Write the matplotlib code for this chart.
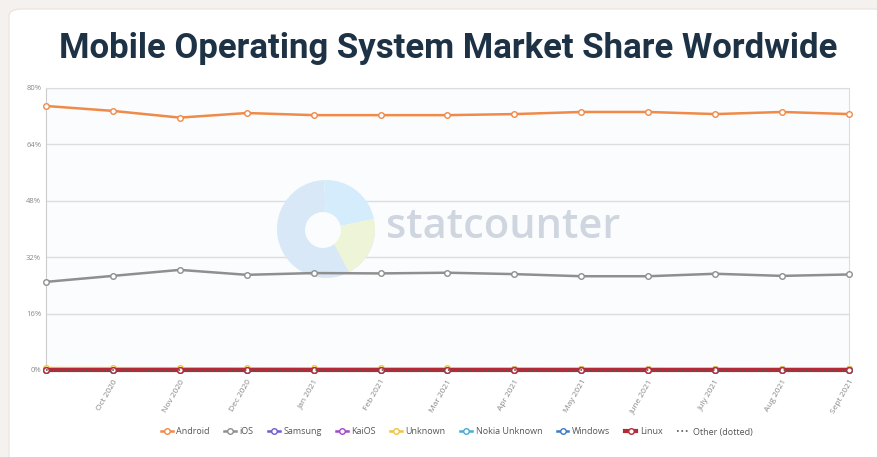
import numpy as np
import matplotlib.pyplot as plt
from matplotlib.patches import FancyBboxPatch, Wedge, Circle

months = ["Sept 2020", "Oct 2020", "Nov 2020", "Dec 2020", "Jan 2021", "Feb 2021", "Mar 2021",
          "Apr 2021", "May 2021", "June 2021", "July 2021", "Aug 2021", "Sept 2021"]
tick_labels = [""] + months[1:]

android = [74.9, 73.5, 71.6, 72.9, 72.3, 72.3, 72.3, 72.6, 73.2, 73.2, 72.6, 73.2, 72.6]
ios = [25.0, 26.7, 28.4, 27.0, 27.5, 27.4, 27.6, 27.2, 26.6, 26.6, 27.3, 26.7, 27.1]
samsung = [0.25, 0.24, 0.23, 0.22, 0.21, 0.21, 0.20, 0.20, 0.19, 0.19, 0.18, 0.18, 0.18]
kaios = [0.12, 0.12, 0.11, 0.11, 0.11, 0.10, 0.10, 0.10, 0.10, 0.09, 0.09, 0.09, 0.09]
unknown = [0.55, 0.52, 0.50, 0.48, 0.45, 0.44, 0.43, 0.42, 0.40, 0.40, 0.39, 0.38, 0.38]
nokia = [0.03, 0.03, 0.03, 0.03, 0.03, 0.02, 0.02, 0.02, 0.02, 0.02, 0.02, 0.02, 0.02]
windows = [0.03, 0.03, 0.02, 0.02, 0.02, 0.02, 0.02, 0.02, 0.02, 0.02, 0.02, 0.02, 0.02]
linux = [0.02, 0.02, 0.02, 0.02, 0.02, 0.02, 0.02, 0.02, 0.02, 0.02, 0.02, 0.02, 0.02]
other = [0.01, 0.01, 0.01, 0.01, 0.01, 0.01, 0.01, 0.01, 0.01, 0.01, 0.01, 0.01, 0.01]

plt.rcParams['font.family'] = ['Open Sans', 'DejaVu Sans']

fig = plt.figure(figsize=(8.78, 4.57), dpi=100)
fig.patch.set_facecolor("#f4f1ee")
# white card behind everything
card = FancyBboxPatch((9 / 878, -0.05), 1.0, 1.05 - 9 / 457, boxstyle="round,pad=0,rounding_size=0.015",
                      transform=fig.transFigure, facecolor="white", edgecolor="#ece6e0", lw=1, zorder=-5)
fig.patches.append(card)

fig.text(0.511, 0.893, "Mobile Operating System Market Share Wordwide", ha="center", va="center",
         fontsize=25, fontweight="bold", color="#1e3246", family=["Roboto", "DejaVu Sans"])

ax = fig.add_axes([46 / 878, 1 - 370 / 457, (849 - 46) / 878, (370 - 88) / 457])
ax.set_facecolor("#fafcfe")

# statcounter watermark (pixel coordinates)
lx, ly, r = 326, 457 - 229, 49
wm = [(92, 355, "#d8e8f7"), (12, 92, "#d4ecfb"), (-62, 12, "#eef4d8")]
for t1, t2, col in wm:
    ax.add_patch(Wedge((lx, ly), r, t1, t2, facecolor=col, edgecolor="none",
                       transform=None, zorder=1))
ax.add_patch(Circle((lx - 3, ly - 1), 18, facecolor="#fafcfe", edgecolor="none", transform=None, zorder=1))
ax.text(386 / 878, 1 - 227 / 457, "statcounter", transform=fig.transFigure, ha="left", va="center",
        fontsize=30, fontweight="semibold", color="#cfd6e0", zorder=1)

x = np.arange(len(months))
series = [
    ("Android", android, "#ef8a48", 1.8),
    ("iOS", ios, "#8f8f8f", 1.8),
    ("Samsung", samsung, "#6b5fd0", 1.8),
    ("KaiOS", kaios, "#a646c8", 1.8),
    ("Unknown", unknown, "#f2c23c", 1.8),
    ("Nokia Unknown", nokia, "#48aad6", 1.8),
    ("Windows", windows, "#3c7ac8", 1.8),
    ("Linux", linux, "#b52a35", 3.0),
]
handles = []
for name, vals, col, lw in series:
    h, = ax.plot(x, vals, color=col, lw=lw, marker="o", ms=4, mfc="white", mec=col, mew=1.0,
                 zorder=3, clip_on=False, label=name)
    handles.append(h)
h, = ax.plot(x, other, color="#555555", lw=1.2, ls=":", zorder=4, clip_on=False, label="Other (dotted)")
handles.append(h)

ax.set_xlim(0, len(months) - 1)
ax.set_ylim(0, 80)
ax.set_yticks([0, 16, 32, 48, 64, 80])
ax.set_yticklabels(["0%", "16%", "32%", "48%", "64%", "80%"])
ax.set_xticks(x)
ax.set_xticklabels(tick_labels, rotation=60, ha="right", rotation_mode="anchor")
ax.tick_params(axis="both", length=0, labelsize=5.5, labelcolor="#888888")
ax.tick_params(axis="x", pad=6, labelsize=6)
ax.grid(axis="y", color="#dddddd", lw=1, zorder=0)
ax.set_axisbelow(True)
for s in ["top", "right"]:
    ax.spines[s].set_color("#dddddd")
ax.spines["left"].set_color("#cccccc")
ax.spines["bottom"].set_visible(False)

leg = fig.legend(handles=handles, loc="center", bbox_to_anchor=(0.52, 1 - 432 / 457), ncol=9,
                 frameon=False, fontsize=6.5, handlelength=1.3, columnspacing=1.6, handletextpad=0.4,
                 labelcolor="#555555")

fig.savefig("out.png", dpi=100, facecolor=fig.get_facecolor())
